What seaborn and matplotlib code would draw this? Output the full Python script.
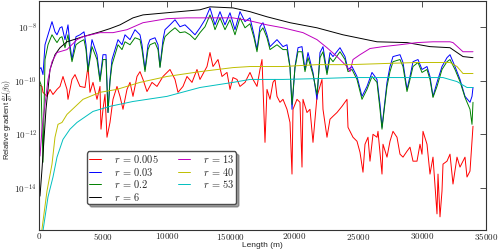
"""
Relative gradient along the profile for several values of r.
"""

import numpy as np
import pandas as pd
import seaborn as sns
from matplotlib import pyplot as plt

# distance along the profile (m) and log10 of the relative gradient
x_fine = [
    0, 157, 313, 470, 705, 1018, 1253, 1409, 1644, 1801, 2036, 2271, 2427, 2584, 2897, 3210, 3524, 3680,
    3837, 4150, 4541, 4776, 5011, 5246, 5403, 5559, 5716, 6186, 6499, 6734, 7125, 7517, 7908, 8065, 8300,
    8535, 8691, 9083, 9318, 9474, 9709, 9866, 10257, 10649, 11040, 11432, 11823, 12215, 12606, 12998,
    13389, 13624, 13781, 14172, 14564, 14955, 15347, 15738, 16130, 16521, 16835, 17069, 17304, 17539,
    17852, 18087, 18635, 19105, 19418, 19653, 19810, 20045, 20280, 20593, 20828, 21063, 21454, 21767,
    22002, 22237, 22550, 22785, 23020, 23568, 23960, 24195, 24508, 24899, 25291, 25682, 26074, 26465,
    26700, 26857, 27014, 27248, 27483, 27718, 28266, 28501, 28814, 29049, 29284, 29675, 29989, 30380,
    30615, 30850, 31163, 31555, 31946, 32181, 32573, 32964, 33356, 33747, 33904, 33982]
exp_003 = [
    -9.59, -9.52, -9.78, -8.67, -8.30, -7.81, -8.19, -8.30, -8.04, -8.00, -8.48, -7.93, -8.67, -9.22, -8.37,
    -8.30, -8.19, -8.67, -9.59, -8.48, -9.04, -9.96, -9.04, -9.04, -11.19, -9.96, -9.22, -8.48, -8.67, -8.30,
    -8.48, -8.11, -8.30, -8.67, -9.59, -8.67, -8.48, -8.41, -8.67, -9.48, -8.48, -8.11, -7.93, -7.74, -8.00,
    -7.93, -8.11, -8.30, -8.04, -7.74, -7.30, -7.67, -7.93, -7.44, -7.93, -7.48, -8.11, -7.44, -7.81, -7.67,
    -8.30, -8.85, -8.00, -7.85, -8.30, -8.74, -8.48, -8.74, -8.67, -9.48, -11.07, -9.48, -8.78, -8.74, -9.59,
    -8.96, -9.70, -10.70, -8.96, -8.74, -9.70, -8.96, -9.11, -8.78, -9.11, -9.59, -9.48, -9.85, -10.59,
    -10.22, -9.70, -9.96, -10.89, -11.74, -11.07, -10.07, -9.48, -9.11, -9.04, -9.33, -10.33, -9.85, -9.30,
    -9.22, -9.59, -9.48, -9.85, -10.59, -10.07, -9.48, -9.15, -9.04, -9.48, -9.96, -10.59, -10.81, -10.59,
    -10.26]
exp_02 = [
    -9.96, -10.15, -13.04, -9.22, -8.67, -8.30, -8.48, -8.59, -8.41, -8.37, -8.78, -8.30, -8.85, -9.30, -8.67,
    -8.56, -8.48, -8.85, -9.67, -8.74, -9.22, -10.04, -9.22, -9.22, -11.19, -10.04, -9.41, -8.67, -8.85, -8.56,
    -8.67, -8.41, -8.48, -8.85, -9.67, -8.85, -8.67, -8.59, -8.85, -9.52, -8.67, -8.37, -8.19, -8.04, -8.22,
    -8.19, -8.30, -8.48, -8.22, -8.00, -7.56, -7.85, -8.11, -7.67, -8.11, -7.74, -8.30, -7.67, -8.04, -7.89,
    -8.41, -8.93, -8.19, -8.04, -8.41, -8.85, -8.67, -8.85, -8.85, -9.52, -10.89, -9.52, -8.93, -8.93, -9.67,
    -9.15, -9.78, -10.52, -9.15, -8.93, -9.78, -9.15, -9.30, -8.93, -9.22, -9.67, -9.59, -9.96, -10.70,
    -10.33, -9.85, -10.07, -11.07, -11.81, -11.15, -10.22, -9.67, -9.30, -9.22, -9.48, -10.41, -9.96, -9.48,
    -9.33, -9.70, -9.59, -9.96, -10.63, -10.22, -9.59, -9.30, -9.22, -9.59, -10.04, -10.63, -11.07, -11.63,
    -10.81]

x_red = [
    0, 235, 313, 626, 861, 1096, 1409, 1644, 1879, 2192, 2271, 2584, 2819, 3210, 3602, 3837, 3993, 4228,
    4541, 4776, 4855, 5011, 5168, 5324, 5559, 5794, 6107, 6342, 6577, 6890, 7125, 7360, 7673, 7908, 8143,
    8456, 8848, 9239, 9709, 10257, 10649, 10884, 11275, 11588, 11980, 12371, 12606, 13154, 13389, 13624,
    14016, 14329, 14720, 14955, 15190, 15503, 15738, 16130, 16521, 16756, 17069, 17304, 17461, 17696,
    17852, 18087, 18322, 18479, 18635, 18870, 19105, 19418, 19653, 19810, 19888, 20201, 20436, 20593,
    20671, 20984, 21219, 21454, 21767, 22002, 22159, 22237, 22550, 22785, 23020, 23333, 23725, 24116,
    24195, 24351, 24586, 24899, 25134, 25369, 25526, 25761, 25917, 26152, 26465, 26544, 26857, 26935,
    27248, 27483, 27718, 28031, 28266, 28501, 28814, 29049, 29284, 29597, 29832, 29989, 30067, 30380,
    30615, 30850, 31163, 31242, 31398, 31555, 31633, 31946, 32181, 32416, 32729, 32964, 33356, 33512,
    33747, 33982]
exp_0005 = [
    -10.15, -10.22, -10.44, -10.59, -10.33, -10.52, -10.33, -10.22, -9.85, -10.33, -10.70, -9.96, -9.78,
    -10.22, -10.26, -9.48, -10.44, -10.07, -10.70, -10.22, -11.81, -11.07, -10.52, -12.11, -11.56, -10.70,
    -10.22, -10.59, -11.07, -10.33, -10.07, -10.59, -9.85, -9.67, -9.96, -10.41, -10.07, -10.22, -9.85,
    -9.59, -9.96, -10.44, -10.22, -9.85, -10.07, -9.59, -9.96, -9.48, -8.96, -9.48, -9.22, -9.85, -9.70,
    -10.33, -9.89, -9.96, -10.22, -10.07, -9.70, -9.96, -10.22, -9.59, -9.22, -12.30, -10.33, -10.70,
    -10.07, -9.96, -10.59, -10.81, -10.70, -11.07, -11.56, -13.48, -11.07, -10.70, -10.81, -13.22, -10.70,
    -11.19, -11.07, -12.30, -10.59, -10.22, -9.96, -11.07, -12.11, -11.44, -11.33, -11.19, -10.96, -10.70,
    -11.74, -11.89, -12.11, -12.26, -12.67, -13.41, -12.37, -12.11, -13.00, -12.00, -12.11, -11.89, -13.48,
    -12.37, -12.85, -12.26, -11.89, -12.11, -12.74, -12.85, -12.63, -12.48, -13.00, -13.00, -12.37, -12.74,
    -11.89, -12.37, -13.48, -12.85, -14.96, -13.48, -15.07, -14.11, -13.11, -13.00, -12.74, -13.85, -12.85,
    -13.22, -12.85, -13.59, -13.37, -11.70]

x_r6 = [
    78, 235, 392, 548, 705, 861, 1253, 1644, 2192, 3445, 4776, 5559, 6342, 7360, 8143, 10022, 12606, 13389,
    15190, 16521, 17852, 19653, 21767, 23803, 26465, 28814, 30615, 32181, 33199, 33982]
exp_6 = [
    -14.30, -13.30, -12.19, -11.07, -10.33, -9.59, -9.04, -8.78, -8.56, -8.37, -8.19, -8.07, -7.93, -7.67,
    -7.56, -7.48, -7.37, -7.26, -7.30, -7.44, -7.63, -7.85, -8.04, -8.30, -8.56, -8.59, -8.74, -8.78, -9.11,
    -9.15]

x_r13 = [
    78, 235, 470, 705, 1018, 1409, 2192, 2975, 3445, 4776, 5794, 6890, 8143, 10022, 11588, 15190, 16521,
    17852, 19105, 20671, 21767, 22550, 23333, 24116, 24351, 24586, 25134, 25917, 26935, 28266, 29597,
    30850, 32181, 32416, 33199, 33982]
exp_13 = [
    -12.81, -11.81, -10.89, -9.96, -9.30, -8.96, -8.85, -8.48, -8.37, -8.22, -8.22, -8.11, -7.85, -7.70,
    -7.67, -7.67, -7.78, -7.93, -8.04, -8.22, -8.48, -8.78, -9.11, -9.48, -9.67, -9.22, -9.04, -8.81, -8.74,
    -8.67, -8.59, -8.56, -8.56, -8.59, -8.93, -8.93]

x_r40 = [
    150, 235, 626, 1018, 1253, 1488, 1801, 2192, 3445, 4776, 6107, 7908, 10022, 12606, 15190, 16521,
    19105, 21767, 24351, 26935, 29597, 32181, 32729, 33199, 33982]
exp_40 = [
    -16.0, -15.52, -14.11, -13.11, -12.11, -11.63, -11.56, -11.26, -10.70, -10.44, -10.33, -10.07, -9.85,
    -9.67, -9.52, -9.48, -9.48, -9.41, -9.41, -9.37, -9.33, -9.33, -9.48, -9.74, -9.74]

x_r53 = [
    250, 313, 705, 1096, 1409, 1879, 2427, 2975, 4228, 5559, 7360, 10022, 12606, 15190, 16521, 19105,
    21767, 24351, 26935, 29597, 31633, 32729, 33512, 33982]
exp_53 = [
    -16.0, -15.59, -14.33, -13.59, -12.85, -12.19, -11.81, -11.56, -11.15, -10.96, -10.78, -10.59, -10.26,
    -10.07, -9.96, -9.96, -9.93, -9.89, -9.89, -9.89, -9.89, -10.04, -10.26, -10.26]

series = [
    ("0.005", x_red, exp_0005, "r"),
    ("0.03", x_fine, exp_003, "b"),
    ("0.2", x_fine, exp_02, "g"),
    ("6", x_r6, exp_6, "k"),
    ("13", x_r13, exp_13, "m"),
    ("40", x_r40, exp_40, "y"),
    ("53", x_r53, exp_53, "c"),
]

x_ticks = [0, 5000, 10000, 15000, 20000, 25000, 30000, 35000]
x_tick_labels = ["0", "5000", "10000", "150000", "20000", "25000", "30000", "35000"]
y_ticks = [1e-14, 1e-12, 1e-10, 1e-8]
y_tick_labels = ["-14", "-12", "-10", "-8"]

sns.set_style("white")
plt.rcParams["font.family"] = ["Liberation Sans", "DejaVu Sans"]
plt.rcParams["mathtext.fontset"] = "cm"

fig = plt.figure(figsize=(4.98, 2.49), dpi=100)
ax = fig.add_axes([0.0783, 0.0763, 0.8976, 0.92])

for r, xs, exps, col in series:
    df = pd.DataFrame({"length": xs, "grad": 10.0 ** np.asarray(exps)})
    sns.lineplot(df, x="length", y="grad", color=col, lw=0.7, label=f"$r\\,=\\,{r}$",
                 estimator=None, sort=False, ax=ax)

ax.set_yscale("log")
ax.set_xlim(0, 35000)
ax.set_ylim(10 ** -15.56, 10 ** -7.04)
ax.set_xticks(x_ticks)
ax.set_xticklabels([f"${t}$" for t in x_tick_labels])
ax.set_yticks(y_ticks)
ax.set_yticklabels([f"$10^{{{t}}}$" for t in y_tick_labels])
ax.yaxis.set_minor_locator(plt.NullLocator())
ax.tick_params(direction="in", length=4, width=0.6, top=True, right=True, labelsize=6.5, pad=1.5,
               color="0.2")
ax.tick_params(axis="x", pad=0.5)
for sp in ax.spines.values():
    sp.set_color("0.2")
    sp.set_linewidth(0.8)

ax.set_xlabel("Length (m)", fontsize=6, labelpad=0)
ax.set_ylabel(r"Relative gradient $\frac{\partial J}{\partial \beta}(\beta_0)$", fontsize=5.5)
ax.yaxis.set_label_coords(-0.055, 0.48)

ax.legend(ncol=2, loc="lower left", bbox_to_anchor=(0.096, 0.09), fontsize=7.5, handlelength=1.15,
          handletextpad=1.3, columnspacing=1.8, labelspacing=0.05, borderpad=0.15, fancybox=True,
          shadow=True, edgecolor="0.3", framealpha=1)

fig.savefig("out.png", dpi=100)
